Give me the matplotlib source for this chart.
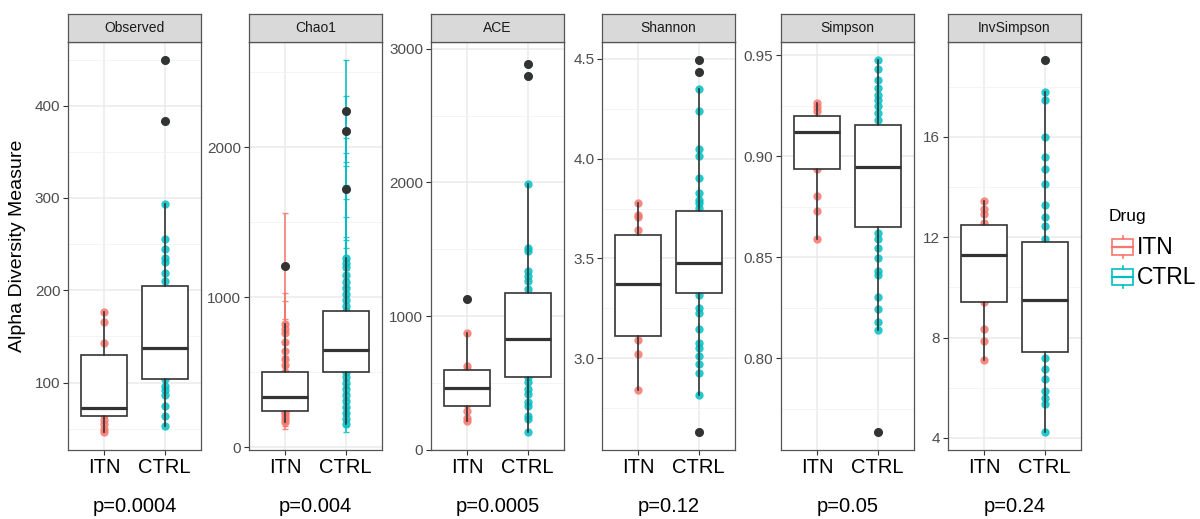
import matplotlib
matplotlib.use('Agg')
import matplotlib.pyplot as plt
from matplotlib.ticker import AutoMinorLocator
from matplotlib.patches import Rectangle

plt.rcParams['font.family'] = ['Liberation Sans', 'DejaVu Sans']

# ---------------- data ----------------
groups = ['ITN', 'CTRL']
group_colors = ['#F8766D', '#00BFC4']
metrics = ['Observed', 'Chao1', 'ACE', 'Shannon', 'Simpson', 'InvSimpson']
p_values = ['p=0.0004', 'p=0.004', 'p=0.0005', 'p=0.12', 'p=0.05', 'p=0.24']

obs_itn = [176, 166, 143, 120, 95, 80, 72, 69, 65, 60, 55, 50, 47]
obs_ctrl = [450, 383, 294, 256, 245, 235, 231, 219, 210, 200, 185, 170, 155, 145,
            138, 130, 120, 110, 104, 96, 92, 87, 75, 64, 53]
chao_itn = [1208, 820, 790, 760, 700, 640, 590, 545, 503, 450, 400, 337, 300, 270,
            240, 230, 210, 190, 170]
chao_itn_se = [355, 211, 186, 71, 109, 60, 55, 50, 45, 40, 38, 35, 30, 30, 28, 40,
               45, 50, 48]
chao_ctrl = [2240, 2106, 1723, 1264, 1230, 1200, 1150, 1100, 1060, 1020, 980, 940,
             909, 860, 780, 700, 650, 600, 540, 503, 470, 430, 390, 350, 310, 270,
             230, 190, 155]
chao_ctrl_se = [337, 234, 339, 698, 520, 452, 385, 300, 270, 230, 200, 180, 160,
                150, 130, 120, 110, 100, 90, 80, 75, 70, 60, 55, 50, 45, 40, 45, 55]
ace_itn = [1131, 872, 628, 598, 520, 458, 400, 340, 292, 234, 217]
ace_ctrl = [2888, 2796, 1986, 1513, 1488, 1338, 1301, 1263, 1201, 1100, 950, 827,
            700, 600, 546, 503, 454, 416, 354, 329, 254, 229, 130]
sh_itn = [3.778, 3.72, 3.708, 3.642, 3.55, 3.45, 3.373, 3.25, 3.15, 3.092, 3.02, 2.842]
sh_ctrl = [4.492, 4.432, 4.348, 4.24, 4.048, 4.012, 3.903, 3.828, 3.795, 3.778,
           3.753, 3.65, 3.55, 3.478, 3.40, 3.315, 3.253, 3.228, 3.145, 3.078, 3.053,
           3.012, 2.97, 2.928, 2.815, 2.632]
si_itn = [0.9264, 0.9245, 0.9223, 0.915, 0.9119, 0.905, 0.8938, 0.8806, 0.8729, 0.8593]
si_ctrl = [0.9475, 0.9432, 0.938, 0.9338, 0.9305, 0.928, 0.9248, 0.9215, 0.9182,
           0.91, 0.90, 0.8946, 0.885, 0.875, 0.8621, 0.8589, 0.8547, 0.8498, 0.8432,
           0.8415, 0.8303, 0.8246, 0.818, 0.8139, 0.7636]
inv_itn = [13.44, 13.11, 12.91, 12.55, 12.0, 11.31, 10.5, 9.42, 8.35, 7.86, 7.11]
inv_ctrl = [19.05, 17.78, 17.45, 16.0, 15.2, 14.73, 14.13, 13.28, 12.81, 12.44,
            11.91, 11.0, 10.2, 9.48, 8.5, 7.8, 7.2, 6.73, 6.34, 5.87, 5.61, 5.34, 4.24]

# box statistics: (whislo, q1, median, q3, whishi, fliers)
obs_box = [(47, 64, 72, 130, 176, []), (53, 104, 138, 205, 294, [450, 383])]
chao_box = [(170, 240, 337, 503, 820, [1208]), (155, 503, 650, 909, 1264, [2240, 2106, 1723])]
ace_box = [(217, 329, 458, 598, 872, [1131]), (130, 546, 827, 1176, 1986, [2888, 2796])]
sh_box = [(2.842, 3.112, 3.373, 3.618, 3.778, []),
          (2.815, 3.325, 3.478, 3.74, 4.348, [4.492, 4.432, 2.632])]
si_box = [(0.8593, 0.8938, 0.9119, 0.9198, 0.9264, []),
          (0.8139, 0.865, 0.8946, 0.9154, 0.9475, [0.7636])]
inv_box = [(7.11, 9.42, 11.31, 12.47, 13.44, []), (4.24, 7.42, 9.48, 11.81, 17.78, [19.05])]

y_ticks = [[100, 200, 300, 400], [0, 1000, 2000], [0, 1000, 2000, 3000],
           [3.0, 3.5, 4.0, 4.5], [0.80, 0.85, 0.90, 0.95], [4, 8, 12, 16]]
y_ticklabels = [['100', '200', '300', '400'], ['0', '1000', '2000'],
                ['0', '1000', '2000', '3000'], ['3.0', '3.5', '4.0', '4.5'],
                ['0.80', '0.85', '0.90', '0.95'], ['4', '8', '12', '16']]
y_limits = [(27, 469), (-18, 2700), (-3, 3052), (2.542, 4.583), (0.7547, 0.9566), (3.52, 19.78)]

points = [(obs_itn, obs_ctrl), (chao_itn, chao_ctrl), (ace_itn, ace_ctrl),
          (sh_itn, sh_ctrl), (si_itn, si_ctrl), (inv_itn, inv_ctrl)]
errors = [None, (chao_itn_se, chao_ctrl_se), None, None, None, None]
boxes = [obs_box, chao_box, ace_box, sh_box, si_box, inv_box]

# ---------------- layout ----------------
W, H = 1200, 519
fig = plt.figure(figsize=(W / 100, H / 100), dpi=100)


def px_rect(x0, y0, x1, y1):
    return [x0 / W, 1 - y1 / H, (x1 - x0) / W, (y1 - y0) / H]


panel_left = [68, 249, 431, 602, 781, 948]
panel_w = 133
ptop, pbot = 42, 450
strip_top = 14
dark = '#333333'

for i, m in enumerate(metrics):
    L = panel_left[i]
    ax = fig.add_axes(px_rect(L, ptop, L + panel_w, pbot))
    ax.set_xlim(0.4, 2.6)
    ax.set_ylim(*y_limits[i])
    ax.set_axisbelow(True)
    ax.set_xticks([1, 2])
    ax.set_xticklabels(groups)
    ax.set_yticks(y_ticks[i])
    ax.set_yticklabels(y_ticklabels[i])
    ax.yaxis.set_minor_locator(AutoMinorLocator(2))
    ax.grid(which='major', color='#EBEBEB', lw=1.1)
    ax.grid(which='minor', axis='y', color='#F2F2F2', lw=0.6)
    ax.tick_params(which='minor', length=0)
    ax.tick_params(axis='y', which='major', colors=dark, labelcolor='#4D4D4D',
                   labelsize=11, length=3.5, width=0.8, pad=2)
    ax.tick_params(axis='x', which='major', colors=dark, labelcolor='black',
                   labelsize=14.5, length=3.5, width=0.8, pad=2)
    for s in ax.spines.values():
        s.set_color('#555555')
        s.set_linewidth(0.9)

    for g in range(2):
        vals = points[i][g]
        xs = [g + 1] * len(vals)
        if errors[i] is not None:
            ax.errorbar(xs, vals, yerr=errors[i][g], fmt='none', ecolor=group_colors[g],
                        elinewidth=1.3, capsize=2.5, capthick=1.0, alpha=0.85, zorder=2)
        ax.scatter(xs, vals, s=36, color=group_colors[g], alpha=0.85, linewidths=0,
                   zorder=2)

    stats = []
    for b in boxes[i]:
        stats.append(dict(whislo=b[0], q1=b[1], med=b[2], q3=b[3], whishi=b[4],
                          fliers=b[5]))
    ax.bxp(stats, positions=[1, 2], widths=0.76, patch_artist=True, showcaps=False,
           manage_ticks=False, zorder=3,
           boxprops=dict(facecolor='white', edgecolor=dark, linewidth=1.2),
           medianprops=dict(color=dark, linewidth=2.3, solid_capstyle='butt'),
           whiskerprops=dict(color=dark, linewidth=1.2),
           flierprops=dict(marker='o', markerfacecolor=dark, markeredgecolor='none',
                           markersize=6.5))

    ax.text(0.5, -(507 - pbot) / (pbot - ptop), p_values[i], transform=ax.transAxes,
            ha='center', va='center', fontsize=14.5, color='black')

    sax = fig.add_axes(px_rect(L, strip_top, L + panel_w, ptop))
    sax.set_facecolor('#D9D9D9')
    sax.set_xticks([])
    sax.set_yticks([])
    for s in sax.spines.values():
        s.set_color('#555555')
        s.set_linewidth(0.9)
    sax.text(0.5, 0.5, m, transform=sax.transAxes, ha='center', va='center',
             fontsize=10, color='#1A1A1A')

fig.text(18 / W, 1 - 246 / H, 'Alpha Diversity Measure', rotation=90, ha='center',
         va='center', fontsize=14, color='black')

# ---------------- legend ----------------
lax = fig.add_axes(px_rect(1100, 200, 1200, 295))
lax.set_xlim(1100, 1200)
lax.set_ylim(295, 200)
lax.axis('off')
lax.text(1109, 217, 'Drug', ha='left', va='center', fontsize=12.5, color='black')
for g, yc in zip(range(2), [247, 277]):
    c = group_colors[g]
    lax.add_patch(Rectangle((1112, yc - 8), 21, 16, facecolor='white', edgecolor=c, lw=1.2))
    lax.plot([1112, 1133], [yc, yc], color=c, lw=1.6)
    lax.plot([1122.5, 1122.5], [yc - 11, yc - 8], color=c, lw=1.2)
    lax.plot([1122.5, 1122.5], [yc + 8, yc + 11], color=c, lw=1.2)
    lax.text(1137, yc, groups[g], ha='left', va='center', fontsize=16.5, color='black')

fig.savefig('out.png', dpi=100)
